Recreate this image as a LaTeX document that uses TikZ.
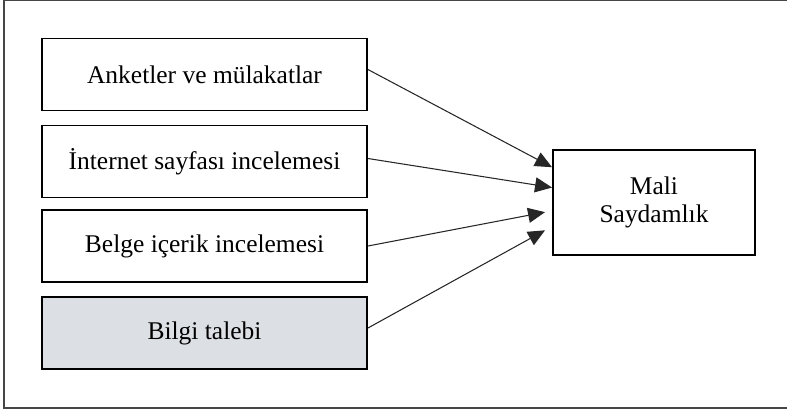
\documentclass[tikz,border=0pt]{standalone}
\usepackage{fontspec}
\setmainfont{Liberation Serif}
\usetikzlibrary{arrows.meta, positioning, calc}
\definecolor{frgray}{RGB}{70,70,70}
\definecolor{boxgray}{RGB}{220,223,228}

\begin{document}
\begin{tikzpicture}[x=0.02cm, y=-0.02cm, every node/.style={font=\fontsize{14.5}{16}\selectfont},
  ibox/.style={draw, line width=1.1pt, minimum width=6.5cm, minimum height=1.44cm,
               align=center, inner sep=0pt},
  conn/.style={-{Triangle[length=0.34cm, width=0.3cm]}, line width=0.6pt, black!85}]
  \useasboundingbox (0,0) rectangle (787,410);
  % outer frame (right side runs off the page)
  \draw[frgray, line width=0.7pt] (800,0.8) -- (4,0.8) -- (4,408) -- (800,408);

  % LEFT stack: sources
  \node[ibox] (anket) at (204.5,74.5) {Anketler ve mülakatlar};
  \node[ibox] (inet) at (204.5,161.5) {İnternet sayfası incelemesi};
  \node[ibox] (belge) at (204.5,246) {Belge içerik incelemesi};
  \node[ibox, fill=boxgray] (bilgi) at (204.5,333) {Bilgi talebi};

  % RIGHT box: result
  \node[draw, line width=1.1pt, minimum width=4.04cm, minimum height=2.1cm,
        align=center, inner sep=0pt] (mali) at (654,202.5) {Mali\\Saydamlık};

  % arrows into the result
  \draw[conn] ($(anket.east)+(0,-5)$) -- ($(mali.north west)!0.17!(mali.south west)$);
  \draw[conn] ($(inet.east)+(0,-3)$) -- ($(mali.north west)!0.36!(mali.south west)$);
  \draw[conn] (belge.east) -- ($(mali.north west)!0.59!(mali.south west)+(-7,0)$);
  \draw[conn] ($(bilgi.east)+(0,-5)$) -- ($(mali.north west)!0.76!(mali.south west)+(-7,0)$);
\end{tikzpicture}
\end{document}
